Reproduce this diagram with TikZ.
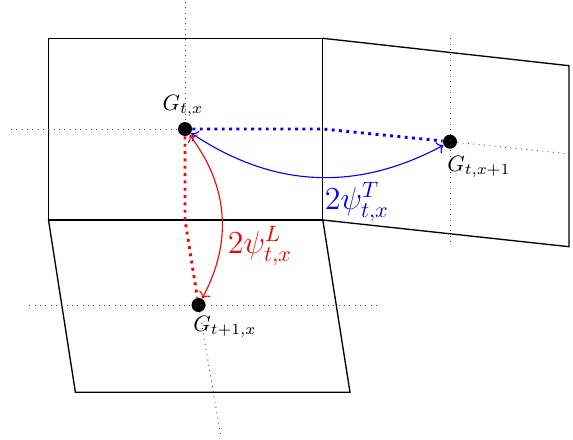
\documentclass[tikz,border=0pt]{standalone}
\usetikzlibrary{arrows.meta}
\begin{document}
\begin{tikzpicture}[x=0.45pt,y=-0.45pt,
  cell/.style={line width=0.6pt},
  axis/.style={dotted, line width=0.4pt, black!75},
  gdot/.style={circle, fill=black, inner sep=0pt, minimum size=6.3pt},
  bluedots/.style={blue, dotted, line width=1.3pt},
  reddots/.style={red, dotted, line width=1.3pt},
  link/.style={<->, line width=0.5pt},
  lab/.style={inner sep=0pt}]
\useasboundingbox (0,0) rectangle (573,439);
% cells
\draw[cell] (48.5,38.3) rectangle (322.8,220);
\draw[cell] (322.8,38.3) -- (569,65.7) -- (569,246.7) -- (322.8,220);
\draw[cell] (48.5,220) -- (75.4,392.3) -- (350,392.3) -- (322.8,220);
% centres
\node[gdot] (G) at (185,129) {};
\node[gdot] (GR) at (450,141.7) {};
\node[gdot] (GB) at (198.5,305) {};
% named points of the axes
\coordinate (Gtop) at (185,2);
\coordinate (Gleft) at (11,129);
\coordinate (kT) at (322.8,129);
\coordinate (GRright) at (573,154.3);
\coordinate (GRtop) at (450,38.3);
\coordinate (GRbot) at (450,243);
\coordinate (kL) at (185,220);
\coordinate (GBbot) at (220.6,435);
\coordinate (GBleft) at (29.4,305);
\coordinate (GBright) at (378.7,305);
% axes
\draw[axis] (Gtop) -- (G);
\draw[axis] (Gleft) -- (G);
\draw[axis] (GR) -- (GRright);
\draw[axis] (GRtop) -- (GRbot);
\draw[axis] (GB) -- (GBbot);
\draw[axis] (GBleft) -- (GBright);
% thick dotted paths
\draw[bluedots] (G) -- (kT) -- (GR);
\draw[reddots] (G) -- (kL) -- (GB);
% curved links
\draw[link, blue] (G) to[bend right=31] (GR);
\draw[link, red] (G) to[bend left=33] (GB);
% labels
\node[lab] (lG) at (183,106) {$G_{t,x}$};
\node[lab] (lGR) at (479,167) {$G_{t,x+1}$};
\node[lab] (lGB) at (225,327) {$G_{t+1,x}$};
\node[lab, blue] (lT) at (357,202) {\Large $2\psi^{T}_{t,x}$};
\node[lab, red] (lL) at (260,246) {\Large $2\psi^{L}_{t,x}$};
\end{tikzpicture}
\end{document}
